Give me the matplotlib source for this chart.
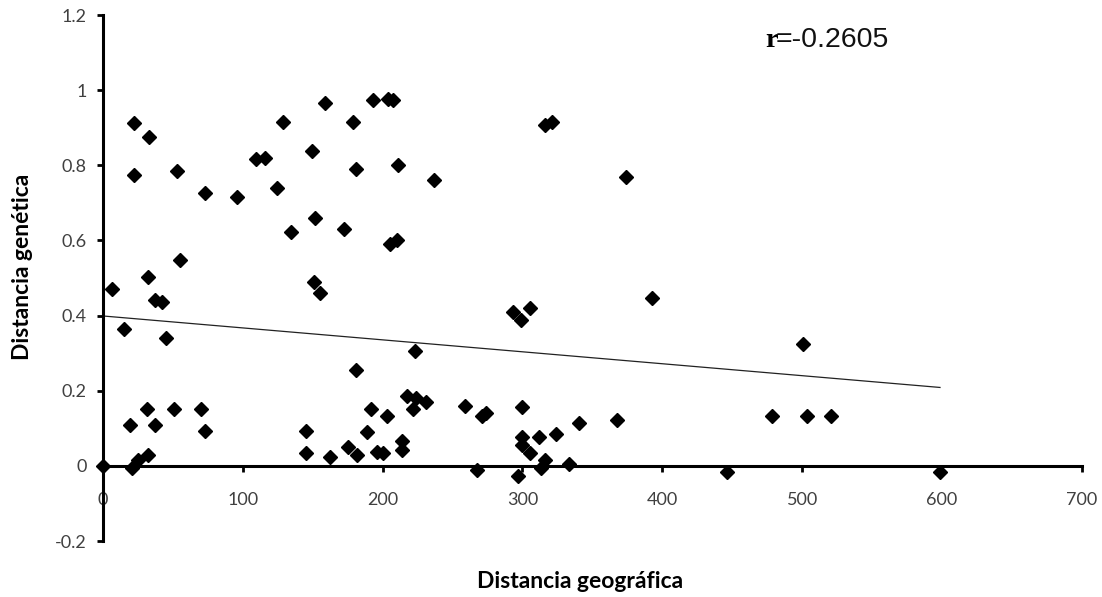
import matplotlib
matplotlib.use("Agg")
import matplotlib.pyplot as plt
import numpy as np

# Data
x_geo = [0, 6.9, 15.4, 19.5, 20.7, 22.4, 22.4, 24.9, 32.2, 31.7,
         32.2, 33.1, 37.4, 37.2, 42.4, 45.5, 51.0, 53.3, 55.5, 70.0,
         72.9, 73.3, 96.2, 109.4, 115.8, 124.8, 128.9, 134.8, 145.3, 145.3,
         149.8, 150.8, 152.0, 155.1, 158.7, 162.3, 172.5, 175.6, 178.9, 181.3,
         181.1, 181.6, 189.1, 191.6, 193.0, 195.9, 200.1, 203.0, 204.2, 207.7,
         205.4, 210.1, 211.1, 214.2, 214.2, 217.3, 221.9, 223.7, 223.5, 231.1,
         237.0, 258.8, 267.3, 271.1, 274.0, 293.5, 297.1, 299.2, 299.5, 299.5,
         299.5, 305.2, 305.2, 312.1, 313.1, 316.1, 316.1, 321.1, 324.2, 333.5,
         340.2, 367.4, 374.0, 392.4, 446.5, 478.6, 500.8, 503.6, 520.4, 598.5]
y_gen = [0.0, 0.472, 0.364, 0.110, -0.006, 0.912, 0.774, 0.016, 0.029, 0.151,
         0.502, 0.876, 0.110, 0.441, 0.437, 0.340, 0.151, 0.786, 0.548, 0.151,
         0.094, 0.726, 0.715, 0.816, 0.820, 0.740, 0.915, 0.622, 0.094, 0.034,
         0.837, 0.490, 0.661, 0.460, 0.967, 0.023, 0.631, 0.050, 0.916, 0.790,
         0.255, 0.028, 0.089, 0.151, 0.974, 0.038, 0.034, 0.134, 0.977, 0.974,
         0.591, 0.600, 0.802, 0.067, 0.043, 0.185, 0.151, 0.181, 0.306, 0.169,
         0.760, 0.160, -0.011, 0.134, 0.141, 0.410, -0.027, 0.389, 0.156, 0.078,
         0.056, 0.420, 0.034, 0.076, -0.006, 0.016, 0.907, 0.916, 0.086, 0.005,
         0.113, 0.123, 0.769, 0.447, -0.017, 0.134, 0.324, 0.134, 0.134, -0.017]

# Trend line
trend_intercept = 0.399
trend_slope = -0.000318
trend_x_range = [0, 598.5]

x_ticks = [0, 100, 200, 300, 400, 500, 600, 700]
y_ticks = [-0.2, 0, 0.2, 0.4, 0.6, 0.8, 1, 1.2]
y_tick_labels = ["-0.2", "0", "0.2", "0.4", "0.6", "0.8", "1", "1.2"]

r_label = "r"
r_value_text = "=-0.2605"
x_label = "Distancia geográfica"
y_label = "Distancia genética"

W, H = 1102, 597
fig = plt.figure(figsize=(W / 100, H / 100), dpi=100)
ax = fig.add_axes([102.7 / W, 1 - 541 / H, (1082 - 102.7) / W, (541 - 15) / H])

ax.set_xlim(0, 700)
ax.set_ylim(-0.2, 1.2)

tx = np.array(trend_x_range)
ax.plot(tx, trend_intercept + trend_slope * tx, color="#222222", lw=0.9, zorder=2)
ax.plot(x_geo, y_gen, linestyle="none", marker="D", ms=7.3, color="black",
        mec="black", zorder=3, clip_on=False)

for s in ["top", "right"]:
    ax.spines[s].set_visible(False)
ax.spines["left"].set_position(("data", 0))
ax.spines["bottom"].set_position(("data", 0))
for s in ["left", "bottom"]:
    ax.spines[s].set_linewidth(2.2)
    ax.spines[s].set_color("black")

ax.set_xticks(x_ticks)
ax.set_xticklabels([str(v) for v in x_ticks])
ax.set_yticks(y_ticks)
ax.set_yticklabels(y_tick_labels)
ax.tick_params(axis="both", direction="out", length=4.5, width=2.0, color="black",
               labelsize=13, labelcolor="#404040")
ax.tick_params(axis="x", pad=14)
ax.tick_params(axis="y", pad=7)
for lab in ax.get_xticklabels() + ax.get_yticklabels():
    lab.set_fontfamily("Lato")

fig.text(580 / W, 1 - 582 / H, x_label, ha="center", va="center",
         fontsize=16.5, fontweight="bold", family="Lato", color="black")
fig.text(23 / W, 1 - 267 / H, y_label, ha="center", va="center", rotation=90,
         fontsize=16.5, fontweight="bold", family="Lato", color="black")

fig.text(765 / W, 1 - 46.7 / H, r_label, ha="left", va="baseline",
         fontsize=20.5, fontweight="bold", family="Liberation Serif", color="black")
fig.text(776 / W, 1 - 46.7 / H, r_value_text, ha="left", va="baseline",
         fontsize=20.5, family="Liberation Sans", color="#111111")

fig.savefig("out.png", dpi=100, facecolor="white")
